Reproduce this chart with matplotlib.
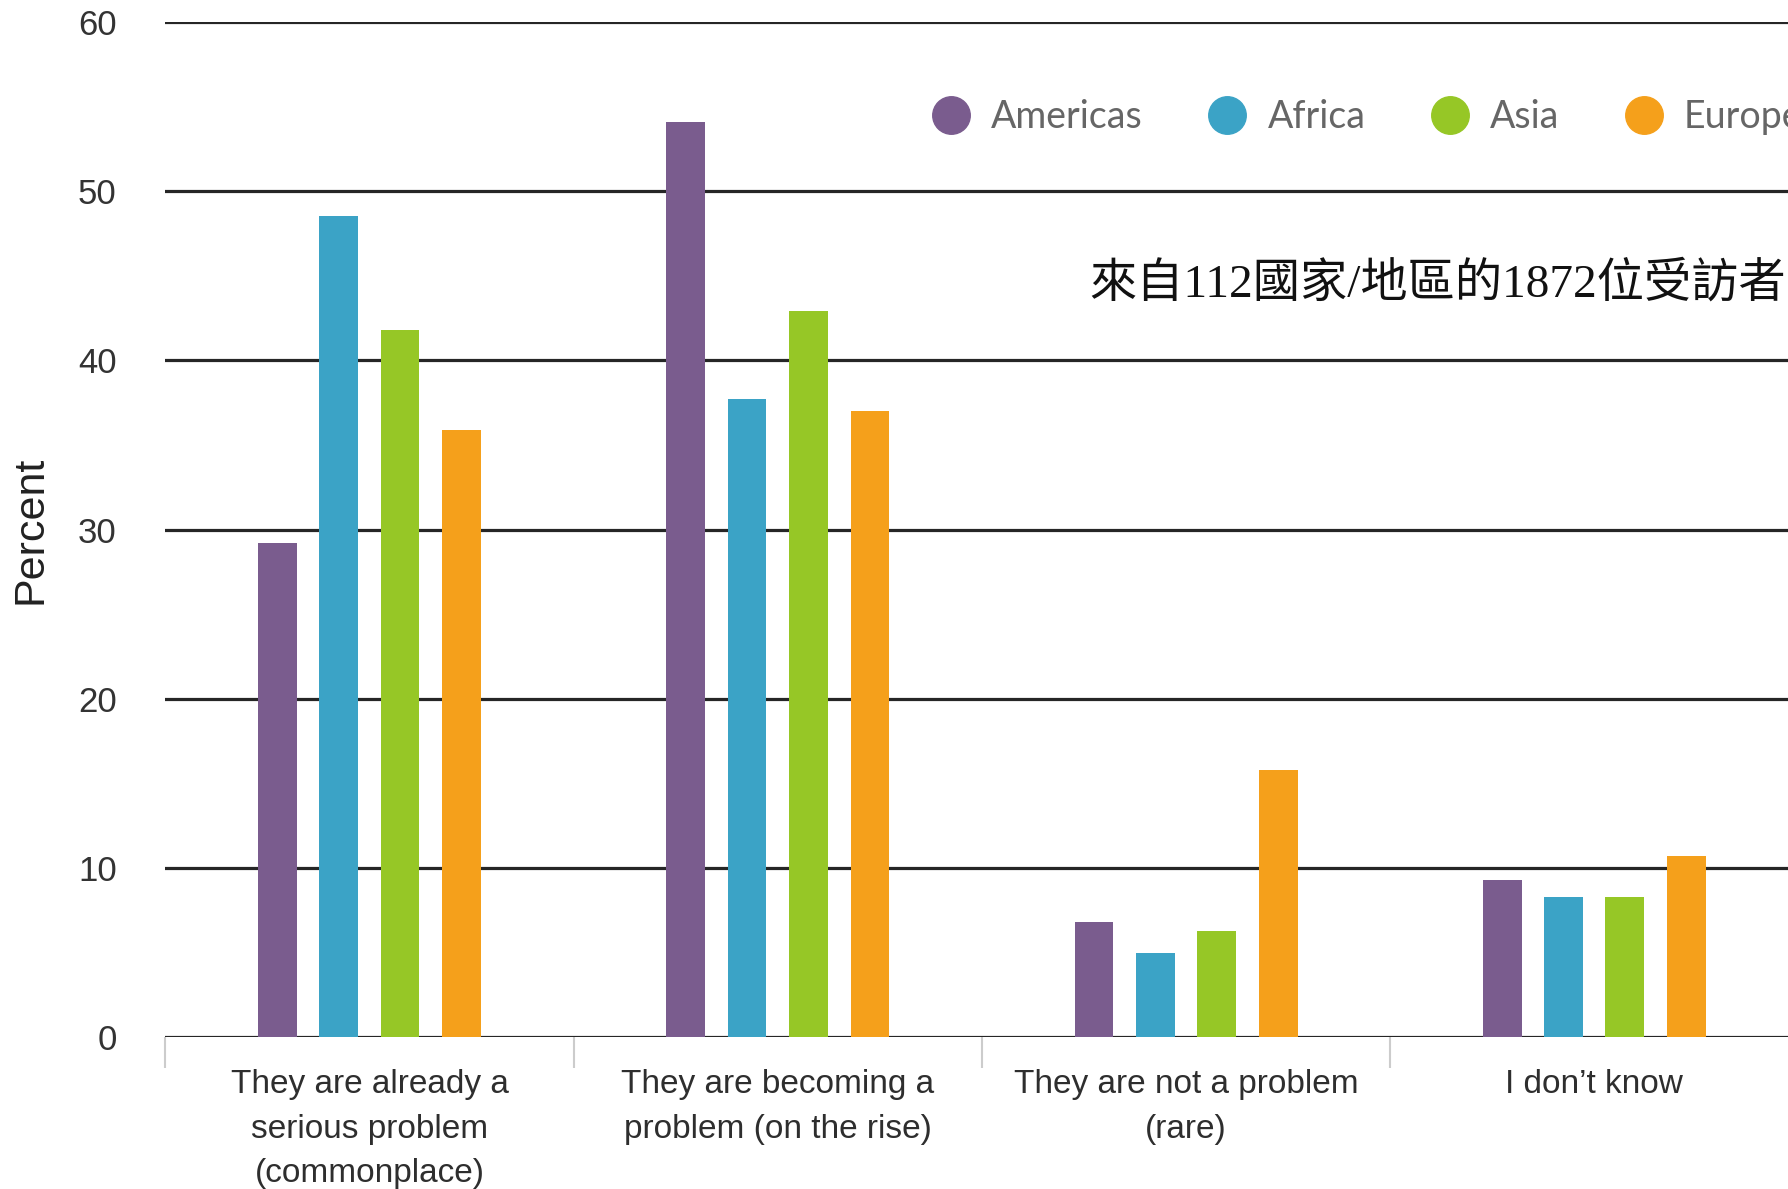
import matplotlib.pyplot as plt
import numpy as np
from matplotlib.lines import Line2D

# survey answers (x categories)
categories = [
    "They are already a\nserious problem\n(commonplace)",
    "They are becoming a\nproblem (on the rise)",
    "They are not a problem\n(rare)",
    "I don\u2019t know",
]
regions = ["Americas", "Africa", "Asia", "Europe"]

americas = [29.2, 54.1, 6.8, 9.3]
africa = [48.5, 37.7, 5.0, 8.3]
asia = [41.8, 42.9, 6.3, 8.3]
europe = [35.9, 37.0, 15.8, 10.7]

y_ticks = [0, 10, 20, 30, 40, 50, 60]
note = "來自112國家/地區的1872位受訪者"

COLORS = ["#7a5c8e", "#3ba3c6", "#96c726", "#f5a01b"]
BAR_W = 0.095
OFFSETS = [-0.225, -0.075, 0.075, 0.226]


def main() -> None:
    fig = plt.figure(figsize=(17.88, 11.89), dpi=100)
    ax = fig.add_axes([0.0925, 0.1275, 0.9132, 0.8543])

    x = np.arange(len(categories))
    series = [americas, africa, asia, europe]
    for vals, off, col in zip(series, OFFSETS, COLORS):
        ax.bar(x + off, vals, width=BAR_W, color=col, zorder=3)

    ax.set_xlim(-0.5, 3.5)
    ax.set_ylim(0, 60)
    ax.set_yticks(y_ticks)
    ax.set_yticklabels([str(v) for v in y_ticks], fontsize=25,
                       family="Liberation Sans", color="#333333")
    for v in y_ticks:
        ax.axhline(v, color="#262626", lw=2.3, zorder=1)

    ax.set_xticks(x)
    ax.set_xticklabels(categories, fontsize=24, family="Liberation Sans",
                       color="#2e2e2e", linespacing=1.55)
    ax.set_xticks(np.arange(-0.5, 4.0, 1.0), minor=True)
    ax.tick_params(axis="x", which="major", length=0, pad=23)
    ax.tick_params(axis="x", which="minor", length=22, width=1.5, color="#cccccc")
    ax.tick_params(axis="y", length=0, pad=35)

    for side in ["top", "right", "left", "bottom"]:
        ax.spines[side].set_visible(False)

    ax.set_ylabel("Percent", fontsize=31, family="Liberation Sans", color="#222222")
    ax.yaxis.set_label_coords(-0.0705, 0.5)

    handles = [
        Line2D([], [], marker="o", linestyle="", markersize=27,
               markerfacecolor=c, markeredgecolor=c)
        for c in COLORS
    ]
    leg = ax.legend(handles, regions, ncol=4, frameon=False,
                    loc="center left", bbox_to_anchor=(0.4697, 0.906),
                    prop={"family": "Lato", "size": 27},
                    handlelength=1.0, handletextpad=0.57, columnspacing=1.75,
                    borderpad=0, borderaxespad=0)
    for t in leg.get_texts():
        t.set_color("#666666")

    ax.text(0.5656, 44.5, note, transform=ax.get_yaxis_transform(),
            fontsize=34, family=["Liberation Serif", "Noto Sans CJK TC"],
            va="center", ha="left", color="#111111")

    fig.savefig("out.png", dpi=100)
    plt.close(fig)


if __name__ == "__main__":
    main()
